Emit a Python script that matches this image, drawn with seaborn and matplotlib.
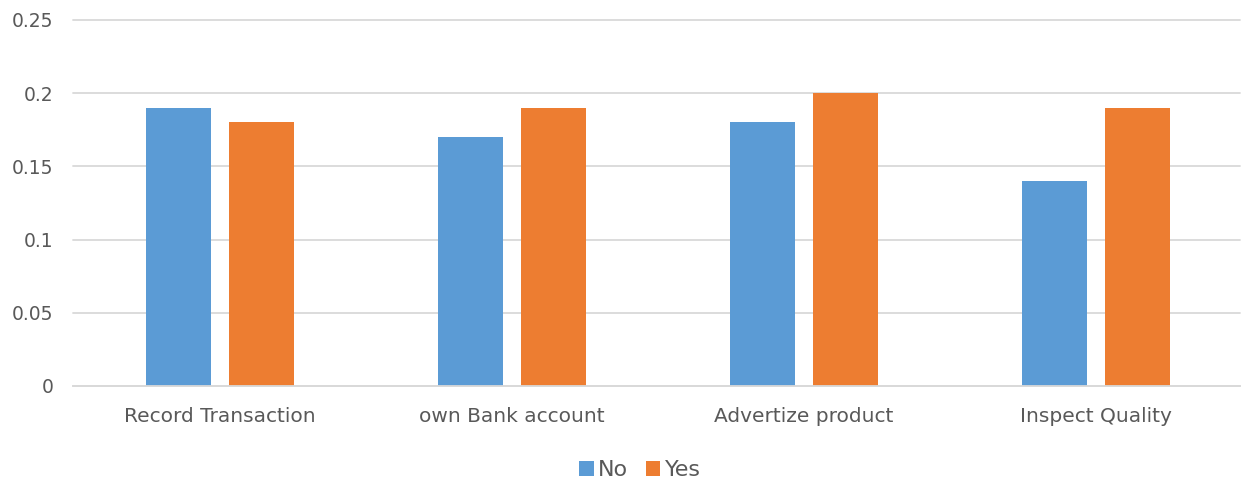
import matplotlib
matplotlib.use("Agg")
import matplotlib.pyplot as plt
import seaborn as sns
import pandas as pd

categories = ["Record Transaction", "own Bank account", "Advertize product", "Inspect Quality"]
no_values = [0.19, 0.17, 0.18, 0.14]
yes_values = [0.18, 0.19, 0.20, 0.19]
series = ["No", "Yes"]
yticks = [0, 0.05, 0.1, 0.15, 0.2, 0.25]
ytick_labels = ["0", "0.05", "0.1", "0.15", "0.2", "0.25"]

df = pd.DataFrame({
    "category": categories * 2,
    "value": no_values + yes_values,
    "series": ["No"] * len(categories) + ["Yes"] * len(categories),
})

sns.set_theme(style="white")
plt.rcParams['font.family'] = ['DejaVu Sans']
text_color = "#595959"

fig = plt.figure(figsize=(12.43, 4.84), dpi=100)
ax = fig.add_axes([0.0587, 0.2025, 0.939, 0.7562])

palette = {"No": "#5B9BD5", "Yes": "#ED7D31"}
sns.barplot(data=df, x="category", y="value", hue="series", hue_order=series,
            palette=palette, width=0.568, gap=0.215, saturation=1, ax=ax,
            legend=False, errorbar=None, linewidth=0, edgecolor="none")

ax.set_ylim(0, 0.25)
ax.set_xlim(-0.503, 3.493)
ax.set_yticks(yticks)
ax.set_yticklabels(ytick_labels)
ax.yaxis.grid(True, color="#D9D9D9", linewidth=1.3)
for gl in ax.get_ygridlines():
    gl.set_clip_on(False)
ax.set_axisbelow(True)
for s in ["top", "right", "left"]:
    ax.spines[s].set_visible(False)
ax.spines["bottom"].set_color("#D9D9D9")
ax.spines["bottom"].set_linewidth(1.3)
ax.tick_params(axis="y", length=0, labelsize=13.5, colors=text_color, pad=14)
ax.tick_params(axis="x", length=0, labelsize=14.5, colors=text_color, pad=15)
ax.set_xlabel("")
ax.set_ylabel("")

from matplotlib.patches import Patch
handles = [Patch(facecolor=palette[s], edgecolor="none", label=s) for s in series]
leg = fig.legend(handles=handles, loc="center", bbox_to_anchor=(640 / 1243, 1 - 470 / 484),
                 ncol=2, frameon=False, fontsize=16, handlelength=0.65, handleheight=0.65,
                 handletextpad=0.2, columnspacing=0.8)
for t in leg.get_texts():
    t.set_color(text_color)

fig.savefig("out.png", dpi=100)
